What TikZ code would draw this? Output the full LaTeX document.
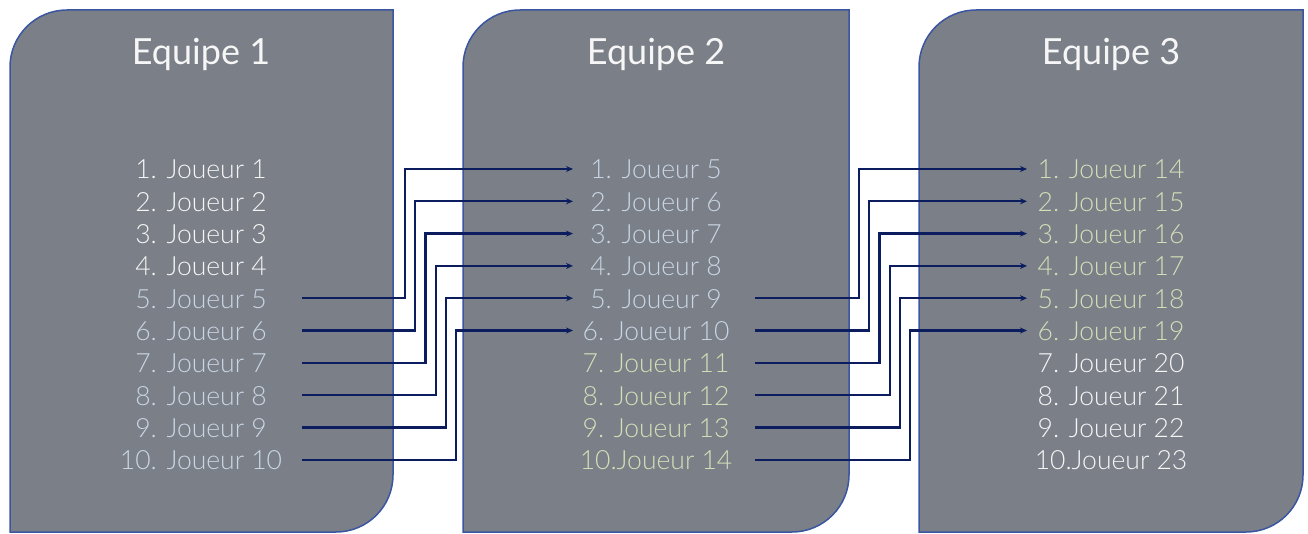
\documentclass[tikz,border=0pt]{standalone}
\usepackage{fontspec}
\setmainfont{Lato Light}
\newfontfamily\titlefont{Lato}
\usetikzlibrary{arrows.meta}
\definecolor{boxfill}{HTML}{7A7F88}
\definecolor{boxline}{HTML}{3B56A0}
\definecolor{navy}{HTML}{0B1D5E}
\definecolor{txtw}{HTML}{F6F6F6}
\definecolor{txtb}{HTML}{CAD6E4}
\definecolor{txtg}{HTML}{D4DFB8}
\begin{document}
\begin{tikzpicture}[x=1pt,y=-1pt,
  team/.style={fill=boxfill,draw=boxline,line width=1.5pt},
  title/.style={anchor=base,text=txtw,font=\titlefont\fontsize{36}{42}\selectfont,inner sep=0pt},
  item/.style={anchor=base,font=\fontsize{26.5}{30}\selectfont,inner sep=0pt},
  conn/.style={draw=navy,line width=2.2pt,-{Stealth[length=7pt,width=6pt]}}]
\useasboundingbox (0,0) rectangle (1308,534);
% team boxes
\foreach \xa/\xb in {10/393, 463/849, 919/1303}{
  \path[team] (\xa,532) [rounded corners=57pt] -- (\xa,10) [sharp corners] -- (\xb,10)
     [rounded corners=57pt] -- (\xb,532) [sharp corners] -- cycle;
}
% titles
\node[title] (t1) at (201,65) {Equipe 1};
\node[title] (t2) at (656,65) {Equipe 2};
\node[title] (t3) at (1111,65) {Equipe 3};
% items
\foreach \i/\txt/\col in {1/1. Joueur 1/txtw,2/2. Joueur 2/txtw,3/3. Joueur 3/txtw,4/4. Joueur 4/txtw,
  5/5. Joueur 5/txtb,6/6. Joueur 6/txtb,7/7. Joueur 7/txtb,8/8. Joueur 8/txtb,9/9. Joueur 9/txtb,10/10. Joueur 10/txtb}{
  \node[item,text=\col] (a\i) at (201,{179+32.3*(\i-1)}) {\txt};
}
\foreach \i/\txt/\col in {1/1. Joueur 5/txtb,2/2. Joueur 6/txtb,3/3. Joueur 7/txtb,4/4. Joueur 8/txtb,
  5/5. Joueur 9/txtb,6/6. Joueur 10/txtb,7/7. Joueur 11/txtg,8/8. Joueur 12/txtg,9/9. Joueur 13/txtg,10/10.Joueur 14/txtg}{
  \node[item,text=\col] (b\i) at (656,{179+32.3*(\i-1)}) {\txt};
}
\foreach \i/\txt/\col in {1/1. Joueur 14/txtg,2/2. Joueur 15/txtg,3/3. Joueur 16/txtg,4/4. Joueur 17/txtg,
  5/5. Joueur 18/txtg,6/6. Joueur 19/txtg,7/7. Joueur 20/txtw,8/8. Joueur 21/txtw,9/9. Joueur 22/txtw,10/10.Joueur 23/txtw}{
  \node[item,text=\col] (c\i) at (1111,{179+32.3*(\i-1)}) {\txt};
}
% connector end points
\foreach \i in {5,...,10}{
  \pgfmathtruncatemacro{\j}{\i-4}
  \coordinate (pa\i) at (302,{169+32.3*(\i-1)});
  \coordinate (pb\i) at (755,{169+32.3*(\i-1)});
  \coordinate (qb\j) at (573,{169+32.3*(\j-1)});
  \coordinate (qc\j) at (1027,{169+32.3*(\j-1)});
  \coordinate (va\i) at ({405+10.2*(\i-5)},0);
  \coordinate (vb\i) at ({859+10.2*(\i-5)},0);
  \draw[conn] (pa\i) -- (pa\i -| va\i) -- (va\i |- qb\j) -- (qb\j);
  \draw[conn] (pb\i) -- (pb\i -| vb\i) -- (vb\i |- qc\j) -- (qc\j);
}
\end{tikzpicture}
\end{document}
